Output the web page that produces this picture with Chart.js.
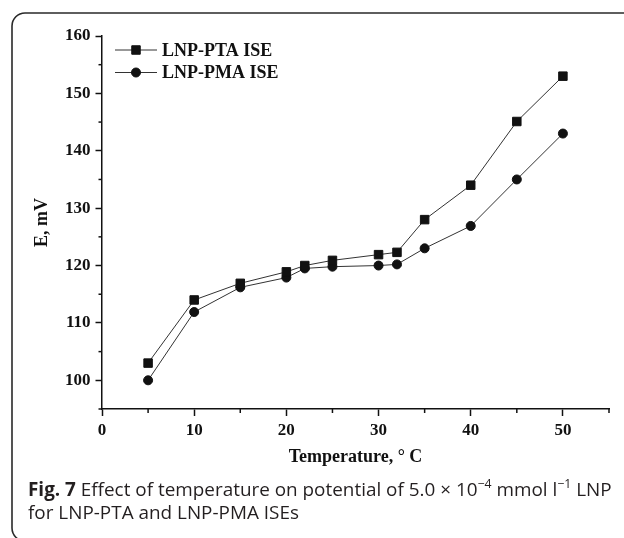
<!DOCTYPE html>
<html>
<head>
<meta charset="utf-8">
<script src="https://cdn.jsdelivr.net/npm/chart.js@4"></script>
<style>
  html, body { margin: 0; padding: 0; background: #fff; }
  #wrap { width: 624px; height: 538px; }
</style>
</head>
<body>
<div id="wrap"><canvas id="c" width="624" height="538"></canvas></div>
<script>
// ---- data ----
const temperatures = [5, 10, 15, 20, 22, 25, 30, 32, 35, 40, 45, 50];
const ptaValues = [103, 114, 116.9, 118.9, 120, 120.9, 121.9, 122.3, 128, 134, 145.1, 153];
const pmaValues = [100, 111.9, 116.2, 117.9, 119.5, 119.8, 120, 120.2, 123, 126.9, 135, 143];
const seriesLabels = ['LNP-PTA ISE', 'LNP-PMA ISE'];
const xTitle = 'Temperature, \u00B0 C';
const yTitle = 'E, mV';
const xRange = [0, 55];
const yRange = [95, 160];
const captionLine1 = [
  { t: 'Fig. 7', bold: true },
  { t: ' Effect of temperature on potential of 5.0 \u00D7 10' },
  { t: '\u22124', sup: true },
  { t: ' mmol l' },
  { t: '\u22121', sup: true },
  { t: ' LNP' }
];
const captionLine2 = [ { t: 'for LNP-PTA and LNP-PMA ISEs' } ];

const ink = '#111111';
const serif = '"Liberation Serif", "Times New Roman", serif';
const sans = '"Open Sans", "Noto Sans", sans-serif';

const decor = {
  id: 'decor',
  beforeDraw(chart) {
    const ctx = chart.ctx;
    ctx.save();
    ctx.fillStyle = '#fff';
    ctx.fillRect(0, 0, chart.width, chart.height);
    const x0 = 12, y0 = 13, x1 = 660, y1 = 541, r = 13;
    ctx.strokeStyle = '#2a2a2a';
    ctx.lineWidth = 1.6;
    ctx.beginPath();
    ctx.moveTo(x1, y0);
    ctx.lineTo(x0 + r, y0);
    ctx.arcTo(x0, y0, x0, y0 + r, r);
    ctx.lineTo(x0, y1 - r);
    ctx.arcTo(x0, y1, x0 + r, y1, r);
    ctx.lineTo(x1, y1);
    ctx.stroke();
    ctx.restore();
  },
  afterDraw(chart) {
    const ctx = chart.ctx;
    const xs = chart.scales.x, ys = chart.scales.y;
    ctx.save();
    ctx.strokeStyle = ink;
    ctx.lineWidth = 1.5;
    xs.ticks.forEach(tk => {
      if (tk.value % 10 !== 0) {
        const px = xs.getPixelForValue(tk.value);
        ctx.beginPath();
        ctx.moveTo(px, ys.bottom);
        ctx.lineTo(px, ys.bottom + 4);
        ctx.stroke();
      }
    });
    ys.ticks.forEach(tk => {
      if (tk.value % 10 !== 0) {
        const py = ys.getPixelForValue(tk.value);
        ctx.beginPath();
        ctx.moveTo(xs.left, py);
        ctx.lineTo(xs.left - 3.5, py);
        ctx.stroke();
      }
    });
    // legend
    const ca = chart.chartArea;
    chart.data.datasets.forEach((ds, i) => {
      const cy = ca.top + 14 + i * 22.5;
      const lx0 = ca.left + 13, lx1 = ca.left + 55, mx = (lx0 + lx1) / 2;
      ctx.strokeStyle = '#333';
      ctx.lineWidth = 1;
      ctx.beginPath();
      ctx.moveTo(lx0, cy);
      ctx.lineTo(lx1, cy);
      ctx.stroke();
      ctx.fillStyle = ink;
      ctx.strokeStyle = ink;
      Chart.helpers.drawPoint(ctx, {
        pointStyle: ds.pointStyle, radius: ds.pointRadius, borderWidth: 1
      }, mx, cy);
      ctx.font = 'bold 18px ' + serif;
      ctx.textBaseline = 'middle';
      ctx.textAlign = 'left';
      ctx.fillText(ds.label, lx1 + 5, cy + 1);
    });
    // caption (font size fitted to the caption block width)
    const startX = 28, endX = 612;
    const fontFor = (p, size) => (p.bold ? 'bold ' : '') + (p.sup ? size * 0.65 : size) + 'px ' + sans;
    const widthOf = (parts, size) => parts.reduce((w, p) => {
      ctx.font = fontFor(p, size); return w + ctx.measureText(p.t).width; }, 0);
    const base = 18;
    const size = base * (endX - startX) / widthOf(captionLine1, base);
    const drawLine = (parts, x, y) => {
      let cx = x;
      parts.forEach(p => {
        ctx.font = fontFor(p, size);
        ctx.fillStyle = '#231f20';
        ctx.textBaseline = 'alphabetic';
        ctx.textAlign = 'left';
        ctx.fillText(p.t, cx, p.sup ? y - size * 0.42 : y);
        cx += ctx.measureText(p.t).width;
      });
    };
    drawLine(captionLine1, startX, 496);
    drawLine(captionLine2, startX, 519);
    ctx.restore();
  }
};

const tickColorFn = c => (c.tick && c.tick.value % 10 === 0) ? ink : 'rgba(0,0,0,0)';

new Chart(document.getElementById('c'), {
  type: 'line',
  data: {
    datasets: [
      {
        label: seriesLabels[0],
        data: temperatures.map((t, i) => ({ x: t, y: ptaValues[i] })),
        borderColor: '#333', borderWidth: 1,
        pointStyle: 'rect', pointRadius: 6,
        pointBackgroundColor: ink, pointBorderColor: ink, pointBorderWidth: 1,
        tension: 0
      },
      {
        label: seriesLabels[1],
        data: temperatures.map((t, i) => ({ x: t, y: pmaValues[i] })),
        borderColor: '#333', borderWidth: 1,
        pointStyle: 'circle', pointRadius: 4.5,
        pointBackgroundColor: ink, pointBorderColor: ink, pointBorderWidth: 1,
        tension: 0
      }
    ]
  },
  options: {
    responsive: false,
    animation: false,
    devicePixelRatio: 1,
    layout: { padding: { left: 12, right: 15, top: 36, bottom: 69 } },
    plugins: { legend: { display: false }, tooltip: { enabled: false } },
    scales: {
      x: {
        type: 'linear', min: xRange[0], max: xRange[1],
        afterFit: s => { s.height = 60; },
        ticks: {
          stepSize: 5, autoSkip: false, maxRotation: 0, padding: 4,
          color: ink, font: { family: serif, size: 17, weight: 'bold' },
          callback: v => (v % 10 === 0 ? String(v) : '')
        },
        grid: { drawOnChartArea: false, tickLength: 7, tickColor: tickColorFn, tickWidth: 1.5 },
        border: { display: true, color: ink, width: 1.5 },
        title: { display: true, text: xTitle, color: ink,
                 font: { family: serif, size: 18, weight: 'bold' }, padding: { top: 0, bottom: 1 } }
      },
      y: {
        type: 'linear', min: yRange[0], max: yRange[1],
        afterFit: s => { s.width = 90; },
        ticks: {
          stepSize: 5, autoSkip: false, padding: 5,
          color: ink, font: { family: serif, size: 17, weight: 'bold' },
          callback: v => (v % 10 === 0 ? String(v) : '')
        },
        grid: { drawOnChartArea: false, tickLength: 6.5, tickColor: tickColorFn, tickWidth: 1.5 },
        border: { display: true, color: ink, width: 1.5 },
        title: { display: true, text: yTitle, color: ink,
                 font: { family: serif, size: 18, weight: 'bold' }, padding: { top: 20, bottom: 0 } }
      }
    }
  },
  plugins: [decor]
});
</script>
</body>
</html>
